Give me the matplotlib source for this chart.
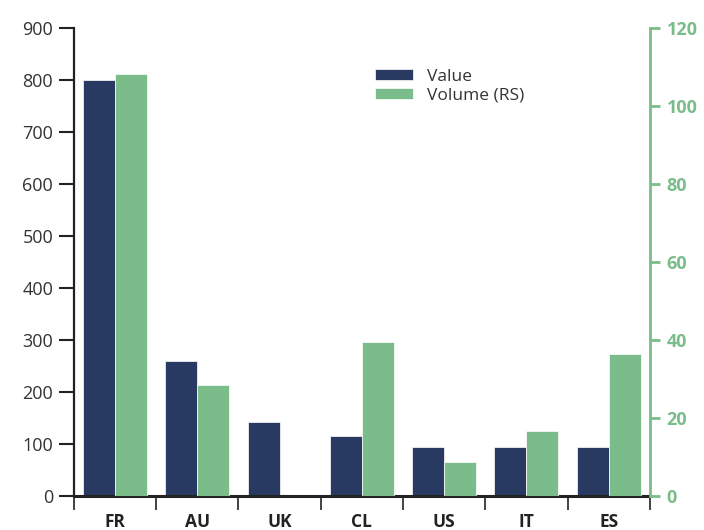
import matplotlib.pyplot as plt
import numpy as np

plt.rcParams['font.family'] = ['Open Sans', 'DejaVu Sans']

countries = ["FR", "AU", "UK", "CL", "US", "IT", "ES"]
value = [800, 260, 143, 116, 95, 95, 95]
volume = [108.3, 28.6, 0, 39.6, 8.7, 16.7, 36.5]

navy = "#283a61"
green = "#7bbd8a"

fig = plt.figure(figsize=(7.04, 5.30), dpi=100)
ax = fig.add_axes([0.105, 0.064, 0.818, 0.883])
ax2 = ax.twinx()

x = np.arange(len(countries))
w = 0.39
b1 = ax.bar(x - w / 2, value, w, color=navy, label="Value", edgecolor="white", linewidth=0.5)
b2 = ax2.bar(x + w / 2, volume, w, color=green, label="Volume (RS)", edgecolor="white", linewidth=0.5)

ax.set_xlim(-0.5, len(countries) - 0.5)
ax.set_ylim(0, 900)
ax.set_yticks(np.arange(0, 901, 100))
ax2.set_ylim(0, 120)
ax2.set_yticks(np.arange(0, 121, 20))

# x axis: labels centered, ticks at group boundaries
ax.set_xticks(x)
ax.set_xticklabels(countries, fontsize=12.5, fontweight="bold", color="#222222")
ax.tick_params(axis="x", length=0, pad=12)
ax.set_xticks(np.arange(-0.5, len(countries)), minor=True)
ax.tick_params(axis="x", which="minor", length=10, width=1.2, color="#222222", direction="out")

ax.tick_params(axis="y", labelsize=13, labelcolor="#333333", length=11, width=1.5, color="#222222", pad=4)
ax2.tick_params(axis="y", labelsize=13, labelcolor=green, length=7, width=2, color=green, pad=5)
for lab in ax2.get_yticklabels():
    lab.set_fontweight("bold")

for a in (ax, ax2):
    a.spines["top"].set_visible(False)
ax.spines["right"].set_visible(False)
ax2.spines["left"].set_visible(False)
ax2.spines["bottom"].set_visible(False)
ax.spines["left"].set_linewidth(1.6)
ax.spines["left"].set_color("#222222")
ax.spines["bottom"].set_linewidth(2.2)
ax.spines["bottom"].set_color("#222222")
ax2.spines["right"].set_color(green)
ax2.spines["right"].set_linewidth(2)

fig.legend(handles=[b1, b2], loc="upper left", bbox_to_anchor=(0.51, 0.9),
           frameon=False, fontsize=12.5, handlelength=2.2, handleheight=0.6,
           labelspacing=0.15, handletextpad=0.8, labelcolor="#333333")

fig.savefig("out.png", dpi=100)
